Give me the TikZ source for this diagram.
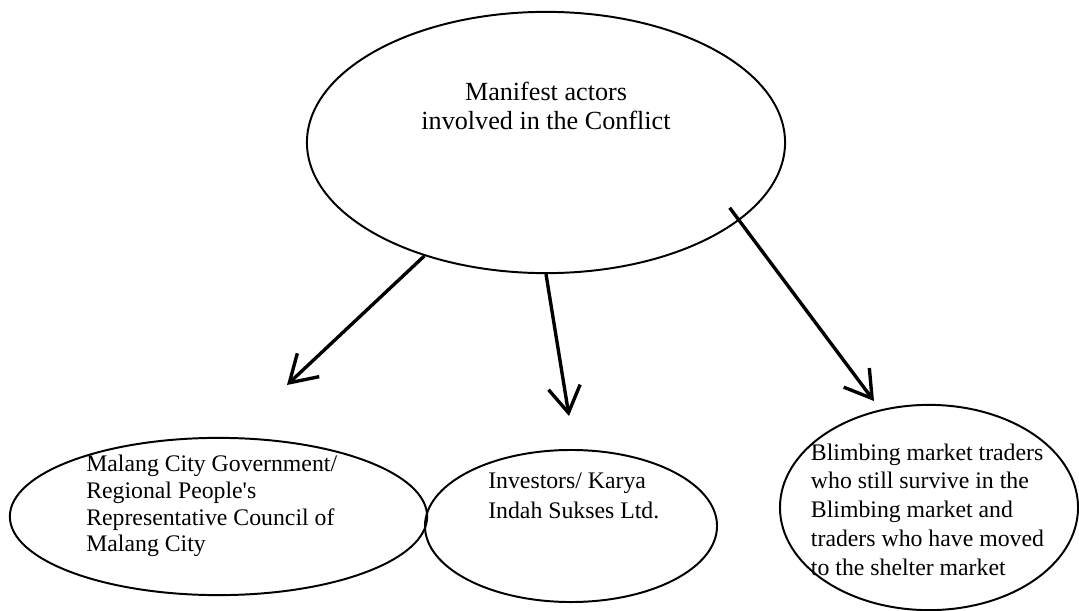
\documentclass[tikz,border=0pt]{standalone}
\usepackage{fontspec}
\setmainfont{Liberation Serif}
\usetikzlibrary{arrows.meta,shapes.geometric}
\tikzset{
  actor/.style={draw,ellipse,line width=1.4pt,inner sep=0pt},
  actortext/.style={align=left,inner sep=0pt,anchor=base west,font=\fontsize{16.9}{19}\selectfont},
  push/.style={-{Straight Barb[length=0.65cm,width=0.8cm]},line width=2.4pt}
}
\begin{document}
\begin{tikzpicture}[x=0.025cm,y=-0.025cm]
  \useasboundingbox (0,0) rectangle (1079,611);

  % ellipses
  \node[actor,minimum width=11.95cm,minimum height=6.53cm] (actors) at (546,142.5) {};
  \node[actor,minimum width=10.43cm,minimum height=3.93cm] (gov) at (218.5,516.5) {};
  \node[actor,minimum width=7.3cm,minimum height=3.8cm] (inv) at (571,526) {};
  \node[actor,minimum width=7.45cm,minimum height=5.13cm] (traders) at (929,507.5) {};

  % texts (anchored at the baseline of the last line)
  \node[align=center,inner sep=0pt,anchor=base,font=\fontsize{18.6}{21.3}\selectfont] (actorsText) at (546,130)
    {Manifest actors\\involved in the Conflict};
  \node[actortext,font=\fontsize{16.9}{18.95}\selectfont] (govText) at (86,551.7)
    {Malang City Government/\\Regional People\textquotesingle s\\Representative Council of\\Malang City};
  \node[actortext,font=\fontsize{16.9}{21.3}\selectfont] (invText) at (488,518.3)
    {Investors/ Karya\\Indah Sukses Ltd.};
  \node[actortext,font=\fontsize{16.9}{20.4}\selectfont] (tradersText) at (810.7,575)
    {Blimbing market traders\\who still survive in the\\Blimbing market and\\traders who have moved\\to the shelter market};

  % arrows
  \coordinate (govTip) at (287,385);
  \coordinate (invTip) at (569,416);
  \coordinate (tradersTip) at (874,401);
  \draw[push] (actors.223.6) -- (govTip);
  \draw[push] (actors.270) -- (invTip);
  \draw[push,shorten <=-0.4cm] (actors.338.6) -- (tradersTip);
\end{tikzpicture}
\end{document}
